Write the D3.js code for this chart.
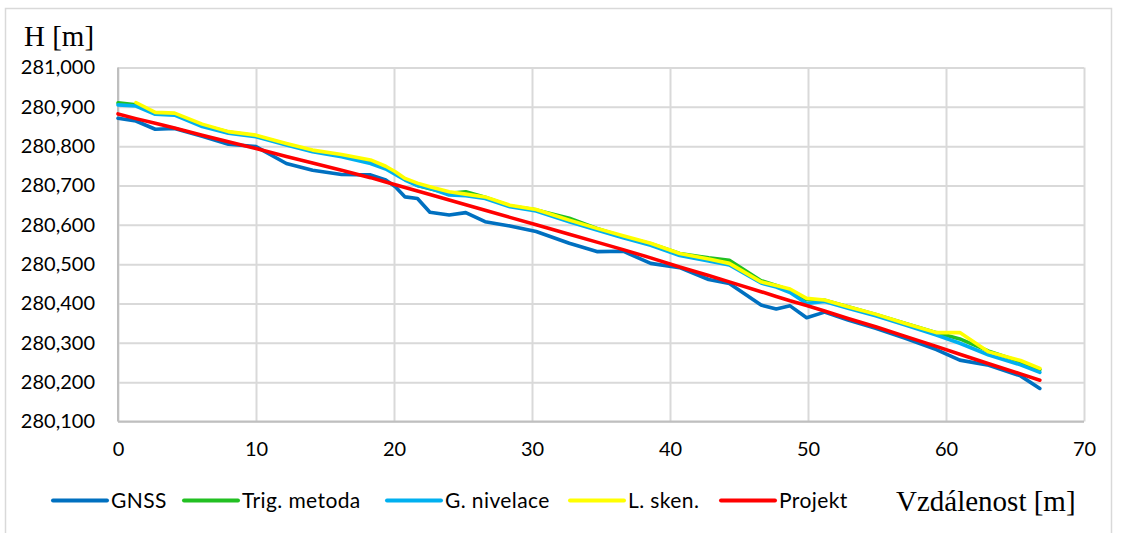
<!DOCTYPE html>
<html>
<head>
<meta charset="utf-8">
<script src="https://cdn.jsdelivr.net/npm/d3@7"></script>
<style>
  html, body { margin: 0; padding: 0; background: #fff; }
  svg { display: block; }
</style>
</head>
<body>
<svg id="chart" width="1122" height="533"></svg>
<script>
// Distances along the profile [m]
const distance = [0, 1.3, 2.7, 4.1, 6.1, 8.0, 10.0, 12.2, 14.1, 16.2, 18.3, 19.4, 20.1, 20.8, 21.7,
  22.6, 24.0, 25.2, 26.6, 28.4, 30.3, 32.7, 34.7, 36.6, 38.6, 40.7, 42.8, 44.3, 46.6, 47.7,
  48.7, 49.9, 51.2, 52.9, 54.9, 57.0, 59.3, 61.0, 63.1, 65.4, 66.8];

// Heights H [m] per method
const gnss = [280.871, 280.864, 280.843, 280.845, 280.825, 280.805, 280.799, 280.756, 280.739, 280.728,
  280.727, 280.714, 280.697, 280.671, 280.667, 280.632, 280.625, 280.631, 280.608, 280.597,
  280.583, 280.553, 280.532, 280.533, 280.502, 280.491, 280.461, 280.451, 280.396, 280.386,
  280.394, 280.364, 280.378, 280.358, 280.337, 280.312, 280.283, 280.256, 280.243, 280.216, 280.184];

const trigMetoda = [280.910, 280.905, 280.884, 280.882, 280.853, 280.836, 280.826, 280.805, 280.788, 280.776,
  280.760, 280.746, 280.731, 280.716, 280.700, 280.692, 280.680, 280.684, 280.670, 280.648,
  280.638, 280.617, 280.591, 280.570, 280.552, 280.527, 280.516, 280.510, 280.458, 280.446,
  280.434, 280.410, 280.408, 280.392, 280.372, 280.350, 280.326, 280.310, 280.279, 280.252, 280.232];

const gNivelace = [280.905, 280.902, 280.881, 280.879, 280.850, 280.833, 280.824, 280.803, 280.786, 280.773,
  280.756, 280.742, 280.728, 280.714, 280.700, 280.693, 280.676, 280.674, 280.667, 280.646,
  280.635, 280.608, 280.587, 280.567, 280.548, 280.522, 280.508, 280.498, 280.452, 280.442,
  280.428, 280.400, 280.405, 280.388, 280.369, 280.346, 280.320, 280.299, 280.269, 280.244, 280.225];

const lSken = [null, 280.911, 280.886, 280.884, 280.856, 280.837, 280.828, 280.807, 280.790, 280.779,
  280.765, 280.749, 280.735, 280.718, 280.706, 280.697, 280.684, 280.678, 280.671, 280.650,
  280.639, 280.612, 280.591, 280.572, 280.553, 280.527, 280.513, 280.502, 280.455, 280.446,
  280.437, 280.413, 280.409, 280.392, 280.373, 280.350, 280.326, 280.326, 280.277, 280.255, 280.235];

const projekt = [280.882, 280.870, 280.858, 280.846, 280.828, 280.811, 280.794, 280.774, 280.757, 280.739,
  280.720, 280.709, 280.702, 280.695, 280.686, 280.677, 280.663, 280.651, 280.637, 280.619,
  280.600, 280.576, 280.556, 280.537, 280.516, 280.493, 280.471, 280.455, 280.430, 280.418,
  280.407, 280.395, 280.381, 280.362, 280.341, 280.317, 280.291, 280.271, 280.247, 280.221, 280.205];

const seriesNames = ["GNSS", "Trig. metoda", "G. nivelace", "L. sken.", "Projekt"];
const seriesValues = [gnss, trigMetoda, gNivelace, lSken, projekt];
const seriesColors = ["#0070c0", "#22c022", "#00b0f0", "#ffff00", "#ff0000"];

const xTicks = [0, 10, 20, 30, 40, 50, 60, 70];
const yTicks = [280.1, 280.2, 280.3, 280.4, 280.5, 280.6, 280.7, 280.8, 280.9, 281.0];

const czech = d3.formatLocale({ decimal: ",", thousands: " ", grouping: [3], currency: ["", " Kč"] });
const fmtY = czech.format(".3f");

const svg = d3.select("#chart");
const sansFont = "Lato, 'Open Sans', sans-serif";
const serifFont = "'Liberation Serif', 'DejaVu Serif', serif";

// Outer chart frame
svg.append("rect")
  .attr("x", 5.5).attr("y", 8.5)
  .attr("width", 1106).attr("height", 540)
  .attr("fill", "#fff").attr("stroke", "#d9d9d9").attr("stroke-width", 1.5);

const plot = { left: 118, right: 1084, top: 67.5, bottom: 421.5 };

const x = d3.scaleLinear().domain([0, 70]).range([plot.left, plot.right]);
const y = d3.scaleLinear().domain([280.1, 281.0]).range([plot.bottom, plot.top]);

// Horizontal grid + y labels
const yAxis = svg.append("g")
  .attr("transform", `translate(${plot.left},0)`)
  .call(d3.axisLeft(y).tickValues(yTicks).tickFormat(fmtY)
    .tickSize(-(plot.right - plot.left)).tickPadding(23));
yAxis.select(".domain").remove();
yAxis.selectAll(".tick line").attr("stroke", "#d9d9d9").attr("stroke-width", 2);
yAxis.selectAll(".tick text")
  .attr("font-family", sansFont).attr("font-size", 20).attr("fill", "#000");

// Vertical grid + x labels
const xAxis = svg.append("g")
  .attr("transform", `translate(0,${plot.bottom})`)
  .call(d3.axisBottom(x).tickValues(xTicks).tickFormat(d3.format("d"))
    .tickSize(-(plot.bottom - plot.top)).tickPadding(20));
xAxis.select(".domain").remove();
xAxis.selectAll(".tick line").attr("stroke", "#d9d9d9").attr("stroke-width", 2);
xAxis.selectAll(".tick text")
  .attr("font-family", sansFont).attr("font-size", 20).attr("fill", "#000");

// Axis lines
svg.append("line")
  .attr("x1", plot.left).attr("x2", plot.left)
  .attr("y1", plot.top).attr("y2", plot.bottom)
  .attr("stroke", "#bfbfbf").attr("stroke-width", 2);
svg.append("line")
  .attr("x1", plot.left).attr("x2", plot.right)
  .attr("y1", plot.bottom).attr("y2", plot.bottom)
  .attr("stroke", "#bfbfbf").attr("stroke-width", 2);

// Profile lines
const line = d3.line()
  .defined(d => d.v != null)
  .x(d => x(d.d))
  .y(d => y(d.v));

seriesValues.forEach((vals, i) => {
  const pts = distance.map((d, j) => ({ d, v: vals[j] }));
  svg.append("path")
    .datum(pts)
    .attr("d", line)
    .attr("fill", "none")
    .attr("stroke", seriesColors[i])
    .attr("stroke-width", 3.6)
    .attr("stroke-linejoin", "round")
    .attr("stroke-linecap", "round");
});

// Axis titles
svg.append("text")
  .attr("x", 24).attr("y", 46)
  .attr("font-family", serifFont).attr("font-size", 29).attr("fill", "#000")
  .text("H [m]");

svg.append("text")
  .attr("x", 896).attr("y", 511)
  .attr("font-family", serifFont).attr("font-size", 29).attr("fill", "#000")
  .text("Vzdálenost [m]");

// Legend
const legendX = [53, 184, 387, 570, 721];
const legendY = 500.5;
const legend = svg.append("g");
seriesNames.forEach((name, i) => {
  const g = legend.append("g").attr("transform", `translate(${legendX[i]},${legendY})`);
  g.append("line")
    .attr("x1", 0).attr("x2", 54)
    .attr("stroke", seriesColors[i]).attr("stroke-width", 4)
    .attr("stroke-linecap", "round");
  g.append("text")
    .attr("x", 58).attr("y", 0).attr("dy", "0.35em")
    .attr("font-family", sansFont).attr("font-size", 21)
    .attr("letter-spacing", 0.4).attr("fill", "#000")
    .text(name);
});
</script>
</body>
</html>
